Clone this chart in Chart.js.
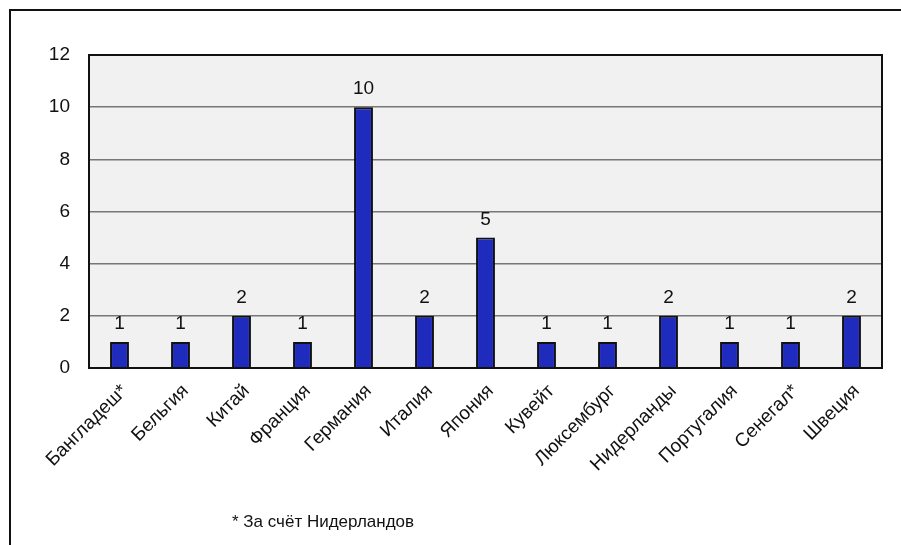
<!DOCTYPE html>
<html>
<head>
<meta charset="utf-8">
<script src="https://cdn.jsdelivr.net/npm/chart.js@4"></script>
<style>
  html, body { margin: 0; padding: 0; background: #fff; }
  #wrap { position: relative; width: 901px; height: 545px; }
  #frame { position: absolute; left: 9px; top: 9px; right: 0; bottom: 0;
           border-top: 2px solid #111; border-left: 2px solid #111; }
  canvas { position: absolute; left: 0; top: 0; }
</style>
</head>
<body>
<div id="wrap">
  <div id="frame"></div>
  <canvas id="chart" width="901" height="545"></canvas>
</div>
<script>
const countries = ['Бангладеш*', 'Бельгия', 'Китай', 'Франция', 'Германия', 'Италия', 'Япония',
  'Кувейт', 'Люксембург', 'Нидерланды', 'Португалия', 'Сенегал*', 'Швеция'];
const counts = [1, 1, 2, 1, 10, 2, 5, 1, 1, 2, 1, 1, 2];
const yTicks = [0, 2, 4, 6, 8, 10, 12];
const footnote = '* За счёт Нидерландов';

const FONT = '"Liberation Sans", Arial, sans-serif';

// grey plot background, black border and the numbers over the bars
const decor = {
  id: 'decor',
  beforeDraw(chart) {
    const { ctx, chartArea: a } = chart;
    ctx.save();
    ctx.fillStyle = '#f1f1f1';
    ctx.fillRect(a.left, a.top, a.right - a.left, a.bottom - a.top);
    ctx.restore();
  },
  afterDatasetsDraw(chart) {
    const { ctx, chartArea: a } = chart;
    ctx.save();
    ctx.strokeStyle = '#111';
    ctx.lineWidth = 2;
    ctx.strokeRect(a.left, a.top, a.right - a.left, a.bottom - a.top);

    ctx.fillStyle = '#111';
    ctx.font = '19px ' + FONT;
    ctx.textAlign = 'center';
    ctx.textBaseline = 'alphabetic';
    chart.getDatasetMeta(0).data.forEach((bar, i) => {
      ctx.fillText(String(counts[i]), bar.x, bar.y - 13);
    });

    ctx.font = '17px ' + FONT;
    ctx.textAlign = 'left';
    ctx.fillText(footnote, 232, 527);
    ctx.restore();
  }
};

new Chart(document.getElementById('chart'), {
  type: 'bar',
  data: {
    labels: countries,
    datasets: [{
      data: counts,
      backgroundColor: '#1f2bbd',
      borderColor: '#111',
      borderWidth: 2,
      barPercentage: 0.31,
      categoryPercentage: 1
    }]
  },
  options: {
    responsive: false,
    animation: false,
    layout: { padding: { left: 0, top: 55, right: 19, bottom: 0 } },
    plugins: { legend: { display: false }, tooltip: { enabled: false } },
    scales: {
      x: {
        grid: { display: false },
        border: { display: false },
        ticks: {
          color: '#111',
          font: { family: FONT, size: 19 },
          minRotation: 45,
          maxRotation: 45,
          autoSkip: false,
          padding: 4,
          labelOffset: 5
        },
        afterFit(scale) { scale.height = 545 - 368; }
      },
      y: {
        min: 0,
        max: 12,
        afterBuildTicks(scale) { scale.ticks = yTicks.map(v => ({ value: v })); },
        grid: { color: '#777', lineWidth: 1.5, drawTicks: false },
        border: { display: false },
        ticks: {
          color: '#111',
          font: { family: FONT, size: 19 },
          padding: 19
        },
        afterFit(scale) { scale.width = 89; }
      }
    }
  },
  plugins: [decor]
});
</script>
</body>
</html>
